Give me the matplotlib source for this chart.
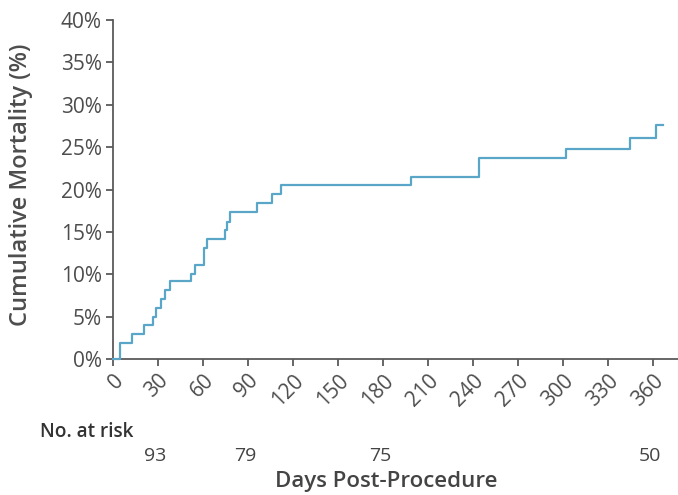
import matplotlib
matplotlib.use("Agg")
import matplotlib.pyplot as plt
from matplotlib.ticker import FuncFormatter
import matplotlib.transforms as mtransforms

plt.rcParams['font.family'] = ['Open Sans', 'DejaVu Sans']

# Kaplan-Meier style cumulative mortality (event days and cumulative %)
event_days = [0, 5, 13, 21, 27, 29, 32, 35, 38, 52, 55, 61, 63, 75, 76, 78,
              96, 106, 112, 199, 244, 302, 345, 362]
cum_mortality = [0.0, 1.9, 2.9, 4.0, 5.0, 6.0, 7.1, 8.1, 9.2, 10.0, 11.1, 13.1,
                 14.2, 15.2, 16.2, 17.3, 18.4, 19.5, 20.5, 21.5, 23.7, 24.8,
                 26.1, 27.6]
end_day = 367

x_ticks = list(range(0, 361, 30))
y_ticks = list(range(0, 41, 5))

at_risk_days = [30, 90, 180, 360]
at_risk_counts = [93, 79, 75, 50]

grey = '#5a5a5a'
text_grey = '#4d4d4d'
line_color = '#5aa6c8'

fig = plt.figure(figsize=(6.78, 4.95), dpi=100)
ax = fig.add_axes([113 / 678, 1 - 359 / 495, 1 - 113 / 678, 339 / 495])

ax.step(event_days + [end_day], cum_mortality + [cum_mortality[-1]],
        where='post', color=line_color, lw=1.6, clip_on=False, zorder=3)

ax.set_xlim(0, 377)
ax.set_ylim(0, 40)
ax.set_xticks(x_ticks)
ax.set_yticks(y_ticks)
ax.yaxis.set_major_formatter(FuncFormatter(lambda v, p: f"{int(v)}%"))

for s in ['top', 'right']:
    ax.spines[s].set_visible(False)
for s in ['left', 'bottom']:
    ax.spines[s].set_color(grey)
    ax.spines[s].set_linewidth(1.3)

ax.tick_params(axis='both', colors=grey, labelcolor=text_grey, labelsize=15,
               length=5, width=1.3)
ax.tick_params(axis='x', pad=3)
ax.tick_params(axis='y', pad=3)
for lbl in ax.get_xticklabels():
    lbl.set_rotation(45)
    lbl.set_ha('right')
    lbl.set_rotation_mode('anchor')

ax.set_ylabel("Cumulative Mortality (%)", fontsize=17, color=text_grey,
              fontweight='semibold')
ax.yaxis.set_label_coords(-(113 - 33) / 565, 0.513)

# Number-at-risk table below the axis
fig.text(40 / 678, 1 - 432 / 495, "No. at risk", fontsize=13.7, color='#333333',
         fontweight='semibold', ha='left', va='center')
trans = mtransforms.blended_transform_factory(ax.transData, fig.transFigure)
shift = mtransforms.ScaledTranslation(-3 / 100, 0, fig.dpi_scale_trans)
for d, n in zip(at_risk_days, at_risk_counts):
    fig.text(d, 1 - 456 / 495, str(n), transform=trans + shift, fontsize=14,
             color='#444444', ha='center', va='center')

fig.text(386 / 678, 1 - 481 / 495, "Days Post-Procedure", fontsize=16,
         color='#444444', fontweight='semibold', ha='center', va='center')

fig.savefig("out.png", dpi=100)
